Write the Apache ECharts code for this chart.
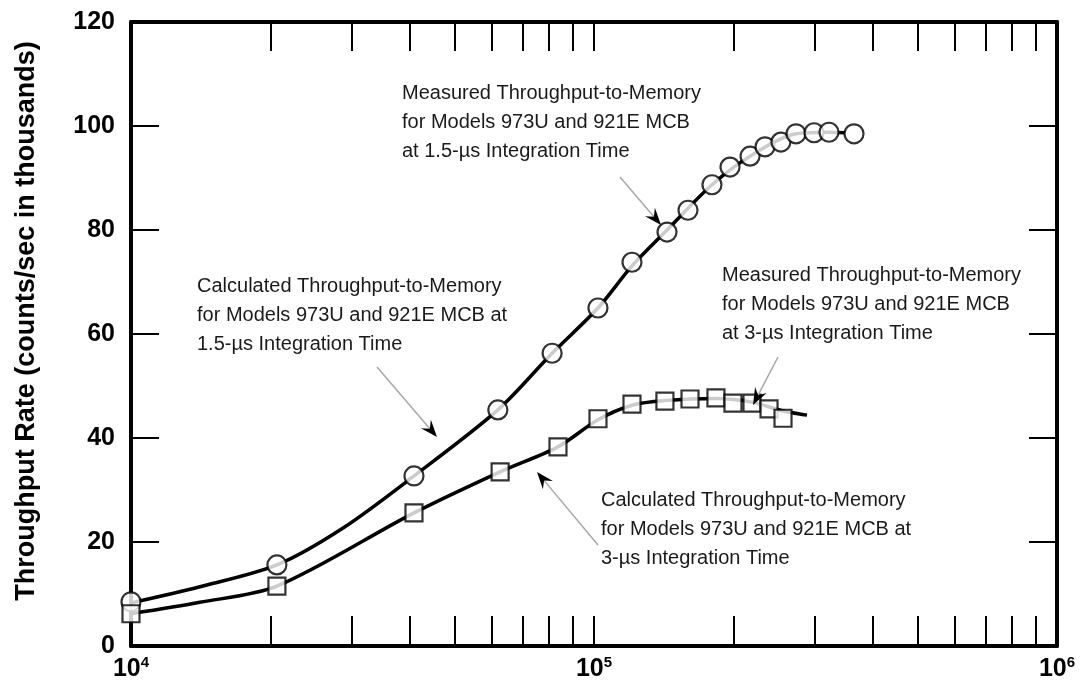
<!DOCTYPE html>
<html><head><meta charset="utf-8">
<script src="https://cdn.jsdelivr.net/npm/echarts@6/dist/echarts.min.js"></script>
<style>html,body{margin:0;padding:0;background:#fff}#c{width:1084px;height:683px}</style>
</head><body><div id="c"></div>
<script>
// ---- data ----
const measured15X = [10000, 20660, 40850, 62000, 81200, 102000, 120800, 143800, 159600, 179800, 196700, 217300, 234100, 253400, 273100, 298700, 321800, 364400];
const measured15Y = [8.5, 15.6, 32.7, 45.4, 56.3, 65.0, 73.8, 79.6, 83.8, 88.7, 92.1, 94.2, 96.0, 96.9, 98.5, 98.7, 98.8, 98.5];
const measured3X = [10000, 20660, 40850, 62700, 83600, 102000, 120800, 142300, 161200, 183400, 199600, 219400, 238800, 256000];
const measured3Y = [6.2, 11.5, 25.6, 33.5, 38.3, 43.7, 46.5, 47.1, 47.5, 47.7, 46.7, 46.7, 45.6, 43.8];
const calc15X = [10000, 14090, 20660, 28710, 40850, 62000, 81200, 102000, 120800, 143800, 179800, 217300, 273100, 321800, 348500];
const calc15Y = [8.3, 11.4, 15.6, 22.7, 32.7, 45.4, 56.3, 65.0, 73.1, 80.0, 88.7, 94.2, 98.5, 98.8, 98.7];
const calc3X = [10000, 14090, 20660, 40850, 62700, 83600, 102000, 120800, 142300, 183400, 219400, 256000, 288400];
const calc3Y = [6.2, 8.4, 11.5, 25.6, 33.5, 38.3, 43.5, 46.3, 47.2, 47.6, 46.9, 45.2, 44.4];
const xTickValues = [10000, 20000, 30000, 40000, 50000, 60000, 70000, 80000, 90000,
  100000, 200000, 300000, 400000, 500000, 600000, 700000, 800000, 900000, 1000000];
const xLabelValues = [10000, 100000, 1000000];
const yMin = 0, yMax = 120, yStep = 20;
const yTitle = 'Throughput Rate (counts/sec in thousands)';
const noteMeasured15 = ['Measured Throughput-to-Memory', 'for Models 973U and 921E MCB', 'at 1.5-\u00b5s Integration Time'];
const noteCalc15 = ['Calculated Throughput-to-Memory', 'for Models 973U and 921E MCB at', '1.5-\u00b5s Integration Time'];
const noteMeasured3 = ['Measured Throughput-to-Memory', 'for Models 973U and 921E MCB', 'at 3-\u00b5s Integration Time'];
const noteCalc3 = ['Calculated Throughput-to-Memory', 'for Models 973U and 921E MCB at', '3-\u00b5s Integration Time'];

// ---- chart ----
const FONT = '"Liberation Sans", Arial, Helvetica, sans-serif';
const zip = (a, b) => a.map((v, i) => [v, b[i]]);
const chart = echarts.init(document.getElementById('c'), null, {renderer: 'canvas'});

const axisLine = {show: true, onZero: false, lineStyle: {color: '#000', width: 4}};
const tickStyle = {color: '#000', width: 2};

function arrow(tail, tip) {
  const dx = tip[0] - tail[0], dy = tip[1] - tail[1];
  const L = Math.hypot(dx, dy), ux = dx / L, uy = dy / L, nx = -uy, ny = ux;
  const p = (a, b) => [tip[0] - a * ux + b * nx, tip[1] - a * uy + b * ny];
  return [
    {type: 'line', shape: {x1: tail[0], y1: tail[1], x2: tip[0] - 8 * ux, y2: tip[1] - 8 * uy},
     style: {stroke: '#a8a8a8', lineWidth: 1.5}, z: 10},
    {type: 'polygon', shape: {points: [tip, p(17, 6.5), p(11, 0), p(17, -6.5)]},
     style: {fill: '#000'}, z: 11}
  ];
}
function note(lines, x, y) {
  return {type: 'text', x: x, y: y, z: 10,
    style: {text: lines.join('\n'), fill: '#1a1a1a', fontSize: 20, fontFamily: FONT,
            lineHeight: 29, align: 'left', verticalAlign: 'top', textAlign: 'left', textVerticalAlign: 'top'}};
}

const option = {
  backgroundColor: '#fff',
  animation: false,
  grid: {left: 131, right: 27, top: 22, bottom: 37, containLabel: false},
  xAxis: [
    {type: 'log', logBase: 10, min: 10000, max: 1000000, position: 'bottom',
     axisLine: axisLine,
     axisTick: {show: true, inside: true, length: 30, lineStyle: tickStyle, customValues: xTickValues},
     axisLabel: {show: true, margin: 9, customValues: xLabelValues,
       formatter: v => '{b|10}{s|' + Math.round(Math.log10(v)) + '}',
       rich: {b: {fontSize: 25, fontWeight: 'bold', fontFamily: FONT, color: '#000', lineHeight: 28},
              s: {fontSize: 15, fontWeight: 'bold', fontFamily: FONT, color: '#000', lineHeight: 16, verticalAlign: 'top'}}},
     splitLine: {show: false}, minorTick: {show: false}},
    {type: 'log', logBase: 10, min: 10000, max: 1000000, position: 'top',
     axisLine: axisLine,
     axisTick: {show: true, inside: true, length: 29, lineStyle: tickStyle, customValues: xTickValues},
     axisLabel: {show: false}, splitLine: {show: false}}
  ],
  yAxis: [
    {type: 'value', min: yMin, max: yMax, interval: yStep, position: 'left',
     axisLine: axisLine,
     axisTick: {show: true, inside: true, length: 28, lineStyle: tickStyle},
     axisLabel: {fontSize: 25, fontWeight: 'bold', fontFamily: FONT, color: '#000', margin: 16},
     splitLine: {show: false}},
    {type: 'value', min: yMin, max: yMax, interval: yStep, position: 'right',
     axisLine: axisLine,
     axisTick: {show: true, inside: true, length: 28, lineStyle: tickStyle},
     axisLabel: {show: false}, splitLine: {show: false}}
  ],
  series: [
    {name: 'Calculated 1.5 us', type: 'line', data: zip(calc15X, calc15Y), smooth: 0.3,
     showSymbol: false, lineStyle: {color: '#000', width: 3.5}, z: 2},
    {name: 'Calculated 3 us', type: 'line', data: zip(calc3X, calc3Y), smooth: 0.3,
     showSymbol: false, lineStyle: {color: '#000', width: 3.5}, z: 2},
    {name: 'Measured 1.5 us', type: 'scatter', data: zip(measured15X, measured15Y), symbol: 'circle',
     symbolSize: 19, itemStyle: {color: '#fff', borderColor: '#000', borderWidth: 2.2}, z: 3},
    {name: 'Measured 3 us', type: 'scatter', data: zip(measured3X, measured3Y), symbol: 'rect',
     symbolSize: 17, itemStyle: {color: '#fff', borderColor: '#000', borderWidth: 2.2}, z: 3}
  ],
  graphic: [
    {type: 'text', x: 27, y: 321, rotation: Math.PI / 2, z: 10,
     style: {text: yTitle, fill: '#000', fontSize: 27, fontWeight: 'bold', fontFamily: FONT,
             align: 'center', verticalAlign: 'middle', textAlign: 'center', textVerticalAlign: 'middle'}},
    note(noteMeasured15, 402, 79),
    note(noteCalc15, 197, 272),
    note(noteMeasured3, 722, 261),
    note(noteCalc3, 601, 486),
    ...arrow([620, 177], [661, 225]),
    ...arrow([377, 367], [437, 437]),
    ...arrow([778, 357], [753, 405]),
    ...arrow([598, 545], [537, 472])
  ]
};
chart.setOption(option);
</script></body></html>
